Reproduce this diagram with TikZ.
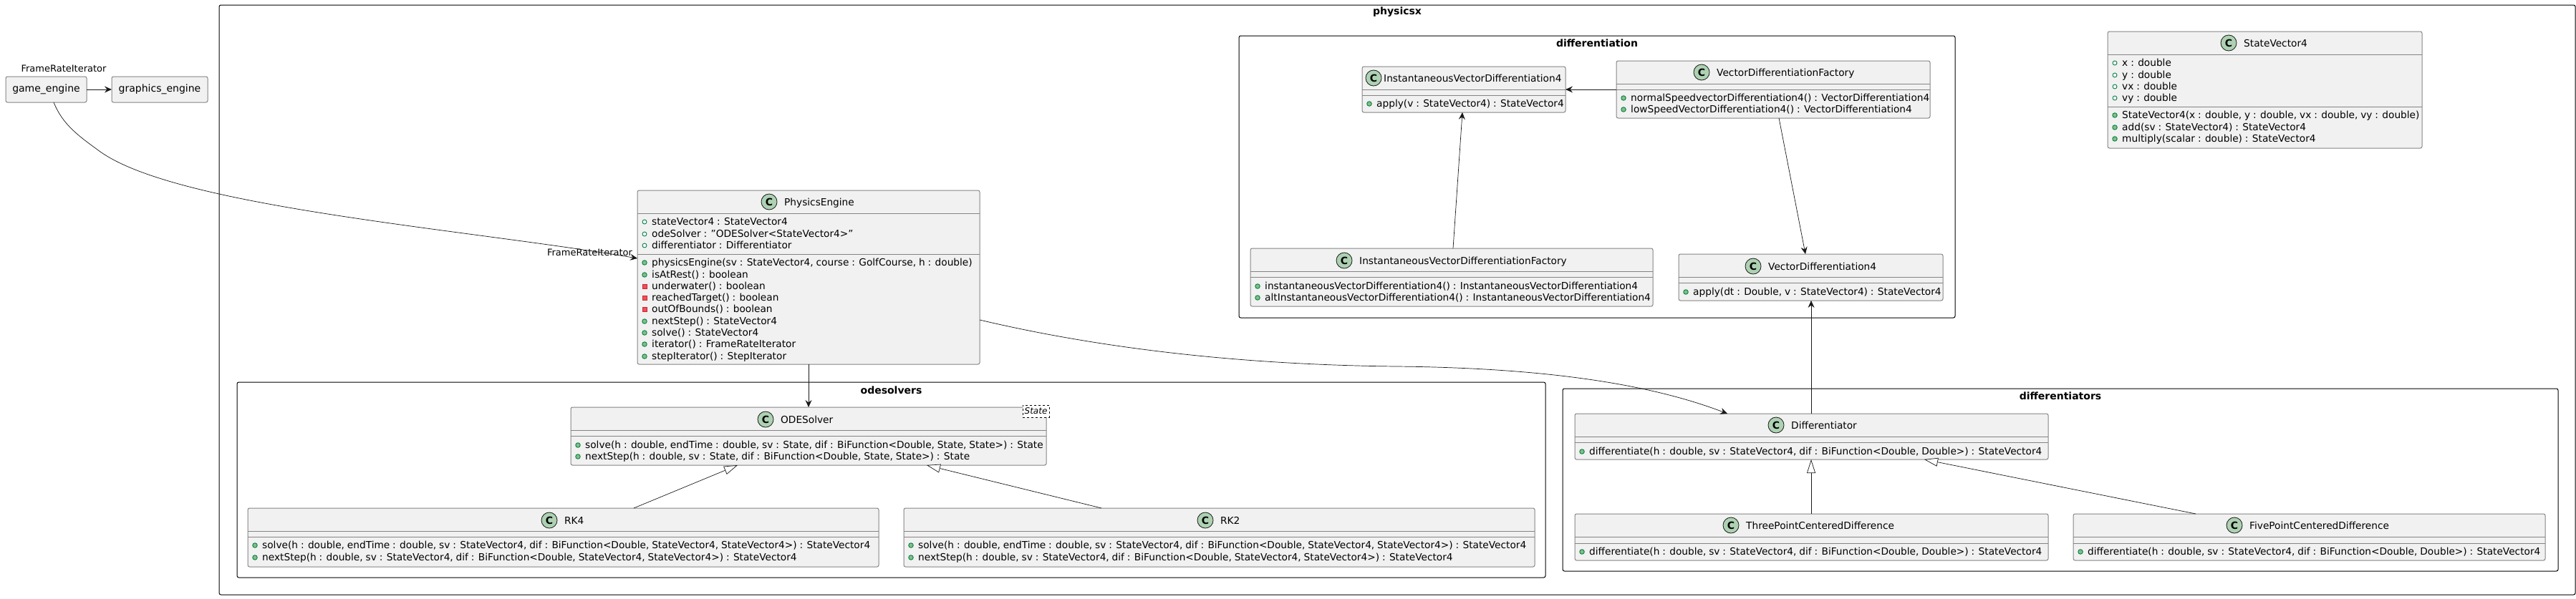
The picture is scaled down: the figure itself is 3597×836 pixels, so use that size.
\documentclass[tikz,border=0pt]{standalone}
\usepackage{fontspec}
\setmainfont[WordSpace=0.9]{DejaVu Sans}
\usetikzlibrary{arrows.meta}
\definecolor{boxfill}{HTML}{F1F1F1}
\definecolor{boxline}{HTML}{848484}
\definecolor{linkline}{HTML}{181818}
\definecolor{iconfill}{HTML}{ADD1B2}
\definecolor{publine}{HTML}{038048}
\definecolor{pubfill}{HTML}{84BE84}
\definecolor{privline}{HTML}{C82930}
\definecolor{privfill}{HTML}{F24D5C}
\tikzset{
	classbox/.style={draw=boxline,fill=boxfill,line width=1pt,rounded corners=2.5pt,inner sep=0pt,outer sep=0pt},
	classrule/.style={draw=boxline,line width=1pt},
	framebox/.style={draw=black,line width=1pt,rounded corners=2.5pt,inner sep=0pt,outer sep=0pt},
	frametitle/.style={font=\fontsize{14}{16}\selectfont\bfseries,inner sep=0pt},
	classicon/.style={circle,draw=linkline,fill=iconfill,line width=.8pt,minimum size=22pt,inner sep=0pt,font=\fontsize{14}{16}\selectfont\bfseries},
	titletext/.style={anchor=base west,inner sep=0pt,font=\fontsize{13.7}{16}\selectfont},
	rowtext/.style={anchor=base west,inner sep=0pt,font=\fontsize{13.7}{16}\selectfont},
	smalltext/.style={inner sep=0pt,font=\fontsize{13}{15}\selectfont},
	fieldicon/.style={circle,draw=publine,fill=white,line width=.9pt,minimum size=6pt,inner sep=0pt},
	methodicon/.style={circle,draw=publine,fill=pubfill,line width=.9pt,minimum size=6.5pt,inner sep=0pt},
	hiddenicon/.style={rectangle,draw=privline,fill=privfill,line width=.9pt,minimum size=6pt,inner sep=0pt},
	link/.style={draw=linkline,line width=.7pt,-{Stealth[length=10pt,width=9pt,inset=3.5pt]}},
	extends/.style={draw=linkline,line width=.7pt,-{Triangle[open,fill=white,length=19pt,width=12pt]}},
}
% name, left, top, right, bottom, icon x, title, title y
\newcommand{\umlclass}[9][21]{
	\node[classbox,minimum width={(#5-#3)*1pt},minimum height={(#6-#4)*1pt}] (#2) at ({(#3+#5)/2},{(#4+#6)/2}) {};
	\node[classicon] (#2c) at (#7,#9) {C};
	\node[titletext] (#2t) at (#7+#1,#9+5) {#8};
}
% name, left, right, y values
\newcommand{\umlrules}[4]{
	\foreach \ry in {#4} {
		\draw[classrule] (#2,\ry) -- (#3,\ry);
	}
}
% name, left of the text, list of y/kind/text
\newcommand{\umlrows}[3]{
	\foreach \ry/\rk/\rt in {#3} {
		\node[\rk] (#1i\ry) at (#2-10,\ry) {};
		\node[rowtext] (#1r\ry) at (#2,\ry+4) {\rt};
	}
}
\begin{document}
\begin{tikzpicture}[x=1pt,y=-1pt]
\useasboundingbox (0,0) rectangle (3597,836);

\node[framebox,minimum width=3290pt,minimum height=824pt] (physicsx) at (1951,419) {};
\node[frametitle] (physicsxt) at (1951,17) {physicsx};
\node[framebox,minimum width=1000pt,minimum height=394pt] (differentiation) at (2230,247) {};
\node[frametitle] (differentiationt) at (2230,60) {differentiation};
\node[framebox,minimum width=1827pt,minimum height=273pt] (odesolvers) at (1244.5,670.5) {};
\node[frametitle] (odesolverst) at (1244.5,545) {odesolvers};
\node[framebox,minimum width=1390pt,minimum height=255pt] (differentiators) at (2877,670.5) {};
\node[frametitle] (differentiatorst) at (2877,553) {differentiators};

\node[classbox,minimum width=113pt,minimum height=36pt,font=\fontsize{14}{16}\selectfont] (game) at (64.5,125) {game\_engine};
\node[classbox,minimum width=134pt,minimum height=36pt,font=\fontsize{14}{16}\selectfont] (graphics) at (223,125) {graphics\_engine};
\node[smalltext] (gamelabel) at (89,96) {FrameRateIterator};

\umlclass{physics}{890}{266}{1368}{509}{1074}{PhysicsEngine}{282}
\umlrules{physics}{890}{1368}{298,355}
\umlrows{physics}{910}{310/fieldicon/{stateVector4 : StateVector4},327/fieldicon/{odeSolver : "ODESolver<StateVector4>"},343/fieldicon/{differentiator : Differentiator},367/methodicon/{physicsEngine(sv : StateVector4, course : GolfCourse, h : double)},384/methodicon/{isAtRest() : boolean},400/hiddenicon/{underwater() : boolean},416/hiddenicon/{reachedTarget() : boolean},432/hiddenicon/{outOfBounds() : boolean},449/methodicon/{nextStep() : StateVector4},465/methodicon/{solve() : StateVector4},481/methodicon/{iterator() : FrameRateIterator},498/methodicon/{stepIterator() : StepIterator}}
\node[smalltext] (physicslabel) at (823.5,353) {FrameRateIterator};

\umlclass{state}{2943}{44}{3382}{207}{3112}{StateVector4}{60}
\umlrules{state}{2943}{3382}{76,149}
\umlrows{state}{2963}{88/fieldicon/{x : double},105/fieldicon/{y : double},121/fieldicon/{vx : double},137/fieldicon/{vy : double},161/methodicon/{StateVector4(x : double, y : double, vx : double, vy : double)},178/methodicon/{add(sv : StateVector4) : StateVector4},194/methodicon/{multiply(scalar : double) : StateVector4}}

\umlclass[14]{inst}{1902}{93}{2186}{157}{1918}{InstantaneousVectorDifferentiation4}{109}
\umlrules{inst}{1902}{2186}{125,133}
\umlrows{inst}{1922}{145/methodicon/{apply(v : StateVector4) : StateVector4}}

\umlclass{vfactory}{2257}{85}{2695}{165}{2376}{VectorDifferentiationFactory}{101}
\umlrules{vfactory}{2257}{2695}{117,125}
\umlrows{vfactory}{2277}{137/methodicon/{normalSpeedvectorDifferentiation4() : VectorDifferentiation4},153/methodicon/{lowSpeedVectorDifferentiation4() : VectorDifferentiation4}}

\umlclass{ifactory}{1746}{347}{2308}{428}{1877}{InstantaneousVectorDifferentiationFactory}{364}
\umlrules{ifactory}{1746}{2308}{379,387}
\umlrows{ifactory}{1766}{400/methodicon/{instantaneousVectorDifferentiation4() : InstantaneousVectorDifferentiation4},416/methodicon/{altInstantaneousVectorDifferentiation4() : InstantaneousVectorDifferentiation4}}

\umlclass{vector}{2344}{355}{2713}{420}{2448}{VectorDifferentiation4}{372}
\umlrules{vector}{2344}{2713}{387,395}
\umlrows{vector}{2364}{408/methodicon/{apply(dt : Double, v : StateVector4) : StateVector4}}

\umlclass{ode}{797}{569}{1461}{650}{1069}{ODESolver}{586}
\umlrules{ode}{797}{1461}{601,609}
\umlrows{ode}{817}{622/methodicon/{solve(h : double, endTime : double, sv : State, dif : BiFunction<Double, State, State>) : State},638/methodicon/{nextStep(h : double, sv : State, dif : BiFunction<Double, State, State>) : State}}
\node[draw=black,dashed,fill=white,line width=.7pt,minimum width=37pt,minimum height=17pt,inner sep=0pt,font=\fontsize{12}{14}\selectfont\itshape] (odestate) at (1446.5,574.5) {State};

\umlclass{rkfour}{346}{710}{1227}{792}{767}{RK4}{727}
\umlrules{rkfour}{346}{1227}{742,750}
\umlrows{rkfour}{366}{762/methodicon/{solve(h : double, endTime : double, sv : StateVector4, dif : BiFunction<Double, StateVector4, StateVector4>) : StateVector4},779/methodicon/{nextStep(h : double, sv : StateVector4, dif : BiFunction<Double, StateVector4, StateVector4>) : StateVector4}}

\umlclass{rktwo}{1262}{710}{2143}{792}{1683}{RK2}{727}
\umlrules{rktwo}{1262}{2143}{742,750}
\umlrows{rktwo}{1282}{762/methodicon/{solve(h : double, endTime : double, sv : StateVector4, dif : BiFunction<Double, StateVector4, StateVector4>) : StateVector4},779/methodicon/{nextStep(h : double, sv : StateVector4, dif : BiFunction<Double, StateVector4, StateVector4>) : StateVector4}}

\umlclass{diff}{2199}{578}{2860}{642}{2480}{Differentiator}{594}
\umlrules{diff}{2199}{2860}{610,618}
\umlrows{diff}{2219}{631/methodicon/{differentiate(h : double, sv : StateVector4, dif : BiFunction<Double, Double>) : StateVector4}}

\umlclass{three}{2199}{718}{2860}{783}{2417}{ThreePointCenteredDifference}{734}
\umlrules{three}{2199}{2860}{750,759}
\umlrows{three}{2219}{771/methodicon/{differentiate(h : double, sv : StateVector4, dif : BiFunction<Double, Double>) : StateVector4}}

\umlclass{five}{2895}{718}{3554}{783}{3120}{FivePointCenteredDifference}{734}
\umlrules{five}{2895}{3554}{750,759}
\umlrows{five}{2915}{771/methodicon/{differentiate(h : double, sv : StateVector4, dif : BiFunction<Double, Double>) : StateVector4}}

\draw[link] (game.east) -- (graphics.west);
\draw[link] ([xshift=10.5pt]game.south) .. controls (88,175) and (110,190) .. (140,212) .. controls (250,290) and (650,320) .. ([yshift=26.5pt]physics.west);
\draw[link] (physics.south) -- (ode.north);
\draw[link] ([yshift=-59.5pt]physics.east) .. controls (1550,490) and (1750,510) .. (1950,512) .. controls (2150,514) and (2300,535) .. ([xshift=-117.5pt]diff.north);
\draw[link] (vfactory.west) -- (inst.east);
\draw[link] ([xshift=2pt]ifactory.north) -- ([xshift=-2pt]inst.south);
\draw[link] ([xshift=8pt]vfactory.south) -- ([xshift=-7.5pt]vector.north);
\draw[link] ([xshift=-.5pt]diff.north) -- ([xshift=.5pt]vector.south);
\draw[extends] ([xshift=98.5pt]rkfour.north) -- ([xshift=-99pt]ode.south);
\draw[extends] ([xshift=-164.5pt]rktwo.north) -- ([xshift=165pt]ode.south);
\draw[extends] ([xshift=-.5pt]three.north) -- ([xshift=-.5pt]diff.south);
\draw[extends] ([xshift=-158.5pt]five.north) -- ([xshift=157.5pt]diff.south);
\end{tikzpicture}
\end{document}
